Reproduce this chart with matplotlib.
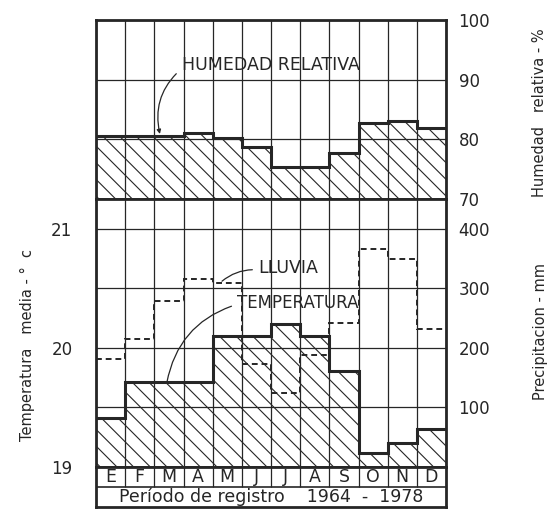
import numpy as np
import matplotlib
matplotlib.use('Agg')
from matplotlib import pyplot as plt

# monthly values
months = ['E', 'F', 'M', 'A', 'M', 'J', 'J', 'A', 'S', 'O', 'N', 'D']
humedad = [80.6, 80.6, 80.6, 81.1, 80.2, 78.7, 75.4, 75.4, 77.7, 82.7, 83.1, 81.9]
temperatura = [19.41, 19.71, 19.71, 19.71, 20.10, 20.10, 20.20, 20.10, 19.81, 19.12, 19.20, 19.32]
lluvia = [182, 215, 279, 316, 309, 173, 124, 188, 242, 366, 350, 232]

hum_ticks = [70, 80, 90, 100]
temp_ticks = [19, 20, 21]
prec_ticks = [100, 200, 300, 400]

INK = '#262626'
plt.rcParams['font.family'] = ['DejaVu Sans']
plt.rcParams['hatch.linewidth'] = 0.8
plt.rcParams['hatch.color'] = INK

fig = plt.figure(figsize=(5.5, 5.12), dpi=100)
L, W = 96 / 550, 350 / 550
ax_h = fig.add_axes([L, (512 - 199) / 512, W, 179 / 512])
ax_t = fig.add_axes([L, (512 - 467) / 512, W, 268 / 512])
ax_p = ax_t.twinx()
ax_m = fig.add_axes([L, (512 - 507) / 512, W, 40 / 512])

edges = np.arange(len(months) + 1)


def style(ax):
    for s in ax.spines.values():
        s.set_linewidth(2.0)
        s.set_color(INK)
    ax.set_xlim(0, 12)
    ax.set_xticks(edges)
    ax.tick_params(axis='x', length=0, labelbottom=False)


# humidity panel
style(ax_h)
ax_h.set_ylim(70, 100)
ax_h.grid(True, color=INK, linewidth=0.9)
ax_h.set_axisbelow(True)
ax_h.stairs(humedad, edges, baseline=70, fill=True, facecolor='none',
            edgecolor=INK, hatch='\\\\', linewidth=0)
ax_h.stairs(humedad, edges, baseline=None, color=INK, linewidth=2.2)
ax_h.yaxis.tick_right()
ax_h.set_yticks(hum_ticks)
ax_h.tick_params(axis='y', length=0, pad=9, labelsize=12, labelcolor=INK)

# temperature / rainfall panel
style(ax_t)
ax_t.set_ylim(19, 21.25)
ax_t.set_yticks(temp_ticks)
ax_t.tick_params(axis='y', length=0, pad=17, labelsize=12, labelcolor=INK)
ax_t.grid(True, axis='x', color=INK, linewidth=0.9)
ax_t.set_axisbelow(True)
ax_t.stairs(temperatura, edges, baseline=19, fill=True, facecolor='none',
            edgecolor=INK, hatch='\\\\', linewidth=0)
ax_t.stairs(temperatura, edges, baseline=None, color=INK, linewidth=2.2)

ax_p.set_ylim(0, 450)
ax_p.set_yticks(prec_ticks)
ax_p.tick_params(axis='y', length=0, pad=9, labelsize=12, labelcolor=INK)
ax_p.grid(True, axis='y', color=INK, linewidth=0.9)
for s in ax_p.spines.values():
    s.set_visible(False)
ax_p.stairs(lluvia, edges, baseline=None, color=INK, linewidth=1.4,
            linestyle=(0, (3, 2)))

# labels on the curves
ax_h.annotate('HUMEDAD RELATIVA', xy=(2.19, 80.9), xytext=(2.95, 92.5),
              fontsize=12.5, color=INK, va='center', ha='left',
              arrowprops=dict(arrowstyle='-|>', color=INK, lw=0.9,
                              mutation_scale=6, shrinkA=3, shrinkB=0,
                              relpos=(0, 0.3),
                              connectionstyle='arc3,rad=0.3'))
ax_t.annotate('LLUVIA', xy=(4.32, 20.56), xytext=(5.55, 20.67),
              fontsize=12.5, color=INK, va='center', ha='left',
              arrowprops=dict(arrowstyle='-', color=INK, lw=0.9,
                              shrinkA=2, shrinkB=0, relpos=(0, 0.4),
                              connectionstyle='arc3,rad=0.2'))
ax_t.annotate('TEMPERATURA', xy=(2.43, 19.71), xytext=(4.83, 20.38),
              fontsize=12, color=INK, va='center', ha='left',
              arrowprops=dict(arrowstyle='-', color=INK, lw=0.9,
                              shrinkA=2, shrinkB=0, relpos=(0, 0.4),
                              connectionstyle='arc3,rad=0.3'))

# month row and period row
style(ax_m)
ax_m.set_ylim(0, 2)
ax_m.set_yticks([])
ax_m.axhline(1, color=INK, linewidth=1.2)
ax_m.vlines(edges[1:-1], 1, 2, color=INK, linewidth=0.9)
for i, m in enumerate(months):
    ax_m.text(i + 0.5, 1.5, m, ha='center', va='center', fontsize=12.5, color=INK)
ax_m.text(6, 0.5, 'Período de registro    1964  -  1978', ha='center',
          va='center', fontsize=12.5, color=INK)

# axis titles
fig.text(27 / 550, 1 - 345 / 512, 'Temperatura   media - °  c', rotation=90,
         ha='center', va='center', fontsize=10.5, color=INK)
fig.text(540 / 550, 1 - 113 / 512, 'Humedad   relativa - %', rotation=90,
         ha='center', va='center', fontsize=10.5, color=INK)
fig.text(540 / 550, 1 - 332 / 512, 'Precipitacion - mm', rotation=90,
         ha='center', va='center', fontsize=10.5, color=INK)

fig.savefig('out.png', dpi=100)
